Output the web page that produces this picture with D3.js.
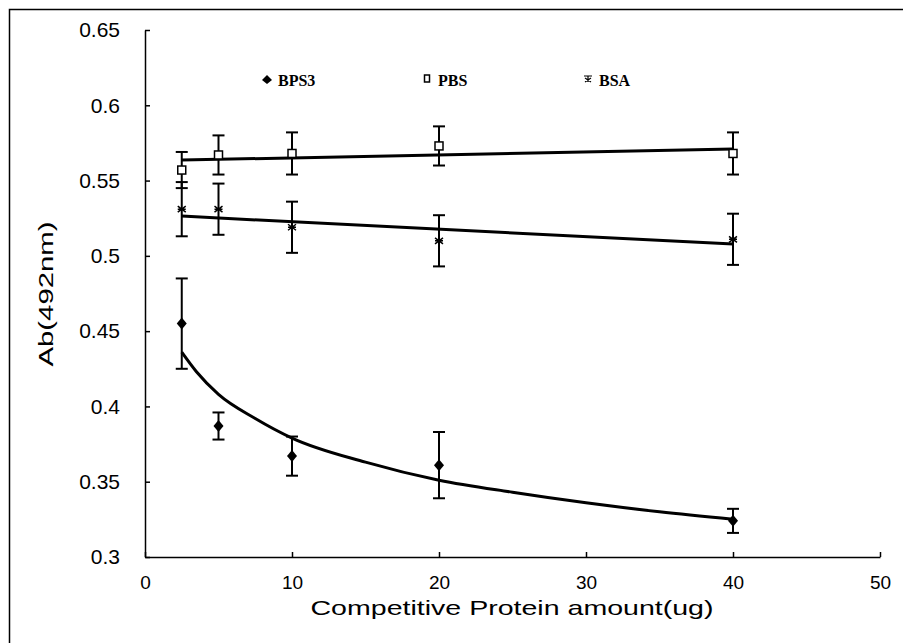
<!DOCTYPE html>
<html>
<head>
<meta charset="utf-8">
<script src="https://cdn.jsdelivr.net/npm/d3@7"></script>
<style>
body { margin: 0; background: #fff; }
svg { display: block; }
.tick text { font-family: "Liberation Sans", Arial, sans-serif; font-size: 21px; fill: #000; }
.x-axis .tick text { font-size: 19px; }
</style>
</head>
<body>
<div id="vis"></div>
<script>
var width = 903,
    height = 643;

// x values (ug)
var amounts = [2.5, 5, 10, 20, 40];

// means and error (sd)
var bps3Mean = [0.455, 0.387, 0.367, 0.361, 0.324];
var bps3Err  = [0.030, 0.009, 0.013, 0.022, 0.008];
var pbsMean  = [0.557, 0.567, 0.568, 0.573, 0.568];
var pbsErr   = [0.012, 0.013, 0.014, 0.013, 0.014];
var bsaMean  = [0.531, 0.531, 0.519, 0.510, 0.511];
var bsaErr   = [0.018, 0.017, 0.017, 0.017, 0.017];

// trend lines
var bps3TrendX = [2.5, 3.5, 5, 7.5, 10, 15, 20, 25, 30, 35, 40];
var bps3TrendY = [0.436, 0.423, 0.408, 0.392, 0.379, 0.363, 0.351, 0.343, 0.336, 0.330, 0.325];
var pbsTrendX = [2.5, 40];
var pbsTrendY = [0.5636, 0.571];
var bsaTrendX = [2.5, 40];
var bsaTrendY = [0.5264, 0.5078];

var xTicks = [0, 10, 20, 30, 40, 50];
var yTicks = [0.3, 0.35, 0.4, 0.45, 0.5, 0.55, 0.6, 0.65];

var svg = d3.select("#vis").append("svg")
    .attr("width", width)
    .attr("height", height);

// frame (only top and left edges show)
svg.append("rect")
    .attr("x", 9.5).attr("y", 9.5)
    .attr("width", width + 20).attr("height", height + 20)
    .style("fill", "none").style("stroke", "#000").style("stroke-width", 1.5);

var x = d3.scaleLinear().domain([0, 50]).range([145, 880]);
var y = d3.scaleLinear().domain([0.3, 0.65]).range([557, 30]);

//----------AXES---------//
var xAxis = svg.append("g")
    .attr("class", "x-axis")
    .attr("transform", "translate(0," + y(0.3) + ")")
    .call(d3.axisBottom(x).tickValues(xTicks).tickSizeInner(-5).tickSizeOuter(0).tickPadding(19).tickFormat(d3.format("d")));
xAxis.select(".domain").style("stroke-width", 1.5);
xAxis.selectAll(".tick line").style("stroke-width", 1.5);

var yAxis = svg.append("g")
    .attr("transform", "translate(" + x(0) + ",0)")
    .call(d3.axisLeft(y).tickValues(yTicks).tickSizeInner(-5).tickSizeOuter(0).tickPadding(25).tickFormat(function(d) { return d3.format("")(+d.toFixed(2)); }));
yAxis.select(".domain").style("stroke-width", 1.5);
yAxis.selectAll(".tick line").style("stroke-width", 1.5);

svg.append("text")
    .attr("x", 512).attr("y", 615)
    .attr("text-anchor", "middle")
    .style("font-family", "'Liberation Sans', Arial, sans-serif")
    .style("font-size", "21px")
    .attr("textLength", 403)
    .attr("lengthAdjust", "spacingAndGlyphs")
    .text("Competitive Protein amount(ug)");

svg.append("text")
    .attr("transform", "translate(53,294) rotate(-90)")
    .attr("text-anchor", "middle")
    .style("font-family", "'Liberation Sans', Arial, sans-serif")
    .style("font-size", "21px")
    .attr("textLength", 145)
    .attr("lengthAdjust", "spacingAndGlyphs")
    .text("Ab(492nm)");

//----------TREND LINES---------//
var line = d3.line()
    .x(function(d) { return x(d[0]); })
    .y(function(d) { return y(d[1]); });

var trends = [
    { xs: bps3TrendX, ys: bps3TrendY, curve: d3.curveMonotoneX },
    { xs: pbsTrendX, ys: pbsTrendY, curve: d3.curveLinear },
    { xs: bsaTrendX, ys: bsaTrendY, curve: d3.curveLinear }
];
trends.forEach(function(t) {
    svg.append("path")
        .datum(d3.zip(t.xs, t.ys))
        .attr("d", line.curve(t.curve))
        .style("fill", "none")
        .style("stroke", "#000")
        .style("stroke-width", 3);
});

//----------ERROR BARS + MARKERS---------//
var series = [
    { name: "BPS3", mean: bps3Mean, err: bps3Err, symbol: "diamond" },
    { name: "PBS", mean: pbsMean, err: pbsErr, symbol: "square" },
    { name: "BSA", mean: bsaMean, err: bsaErr, symbol: "cross" }
];

function drawMarker(g, kind, cx, cy) {
    if (kind === "diamond") {
        g.append("path")
            .attr("d", "M" + cx + "," + (cy - 6) + "L" + (cx + 5) + "," + cy + "L" + cx + "," + (cy + 6) + "L" + (cx - 5) + "," + cy + "Z")
            .style("fill", "#000");
    } else if (kind === "square") {
        g.append("rect")
            .attr("x", cx - 4).attr("y", cy - 4)
            .attr("width", 8).attr("height", 8)
            .style("fill", "#fff").style("stroke", "#000").style("stroke-width", 1.5);
    } else {
        g.append("path")
            .attr("d", "M" + (cx - 4) + "," + (cy - 3) + "L" + (cx + 4) + "," + (cy + 3) +
                       "M" + (cx - 4) + "," + (cy + 3) + "L" + (cx + 4) + "," + (cy - 3) +
                       "M" + (cx - 4) + "," + cy + "L" + (cx + 4) + "," + cy)
            .style("stroke", "#000").style("stroke-width", 1.5);
    }
}

series.forEach(function(s) {
    var g = svg.append("g").attr("class", "series-" + s.name);
    amounts.forEach(function(a, i) {
        var cx = x(a),
            top = y(s.mean[i] + s.err[i]),
            bot = y(s.mean[i] - s.err[i]);
        g.append("line")
            .attr("x1", cx).attr("x2", cx).attr("y1", top).attr("y2", bot)
            .style("stroke", "#000").style("stroke-width", 2);
        [top, bot].forEach(function(yy) {
            g.append("line")
                .attr("x1", cx - 6).attr("x2", cx + 6).attr("y1", yy).attr("y2", yy)
                .style("stroke", "#000").style("stroke-width", 2);
        });
        drawMarker(g, s.symbol, cx, y(s.mean[i]));
    });
});

//----------LEGEND---------//
var legendX = [267, 427, 588];
var legend = svg.append("g").attr("id", "legend");
series.forEach(function(s, i) {
    var lg = legend.append("g")
        .attr("transform", "translate(" + legendX[i] + ",80)");
    if (s.symbol === "diamond") {
        lg.append("path").attr("d", "M0,-5L5,0L0,4L-5,0Z").style("fill", "#000");
    } else if (s.symbol === "square") {
        lg.append("rect").attr("x", -2.5).attr("y", -5).attr("width", 5).attr("height", 7)
            .style("fill", "#fff").style("stroke", "#000").style("stroke-width", 1.5);
    } else {
        lg.append("path").attr("d", "M-4,-4L4,-4M0,-4L0,2M-3,-2L3,2M-3,2L3,-2")
            .style("stroke", "#000").style("stroke-width", 1.2);
    }
    lg.append("text")
        .attr("x", 11).attr("y", 6)
        .style("font-family", "'Liberation Serif', 'Times New Roman', serif")
        .style("font-size", "16px")
        .style("font-weight", "bold")
        .text(s.name);
});
</script>
</body>
</html>
